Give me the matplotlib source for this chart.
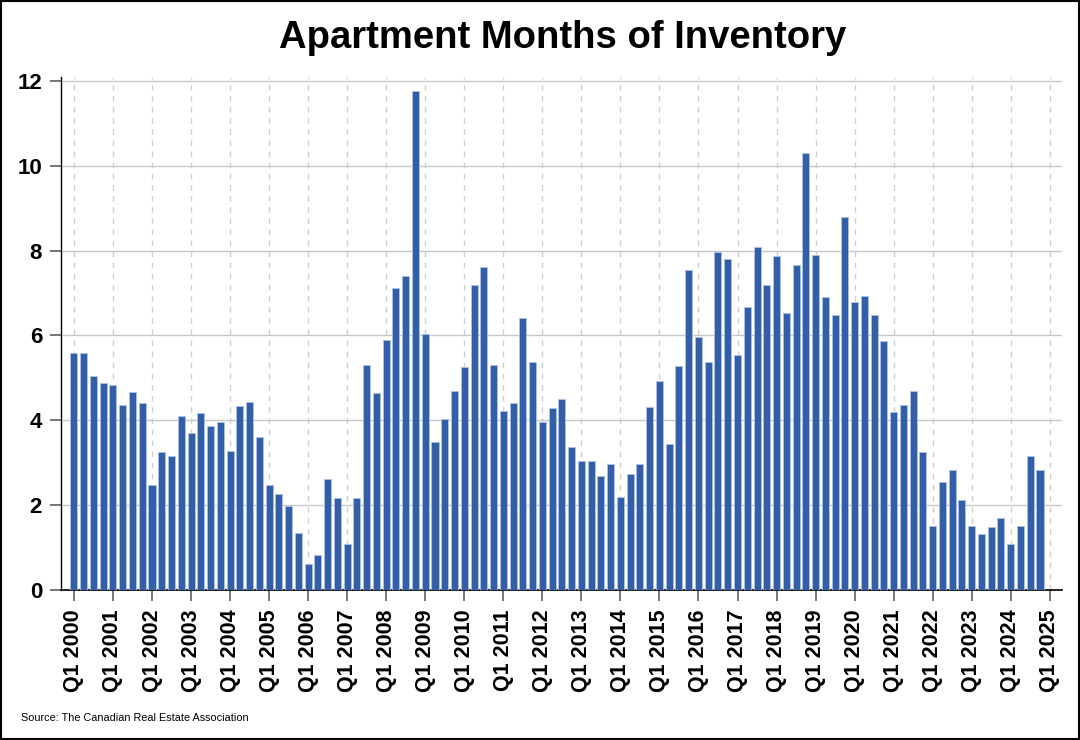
import matplotlib
matplotlib.use("Agg")
import matplotlib.pyplot as plt
import numpy as np

plt.rcParams['font.family'] = ['Liberation Sans', 'DejaVu Sans']

title = "Apartment Months of Inventory"
source = "Source: The Canadian Real Estate Association"
years = list(range(2000, 2026))
tick_labels = [f"Q1 {y}" for y in years]

# Quarterly values, Q1 2000 .. Q4 2024
values = [
    5.58, 5.59, 5.05, 4.87, 4.82, 4.35, 4.66, 4.41,   # 2000-2001
    2.48, 3.26, 3.15, 4.09, 3.69, 4.18, 3.87, 3.97,   # 2002-2003
    3.28, 4.34, 4.44, 3.60, 2.48, 2.26, 1.98, 1.35,   # 2004-2005
    0.61, 0.83, 2.62, 2.17, 1.08, 2.17, 5.30, 4.65,   # 2006-2007
    5.90, 7.12, 7.39, 11.77, 6.04, 3.49, 4.02, 4.68,  # 2008-2009
    5.26, 7.18, 7.61, 5.31, 4.23, 4.40, 6.41, 5.38,   # 2010-2011
    3.95, 4.30, 4.51, 3.38, 3.05, 3.05, 2.68, 2.96,   # 2012-2013
    2.19, 2.73, 2.96, 4.32, 4.93, 3.43, 5.28, 7.54,   # 2014-2015
    5.96, 5.38, 7.97, 7.81, 5.54, 6.68, 8.08, 7.18,   # 2016-2017
    7.87, 6.54, 7.66, 10.30, 7.89, 6.91, 6.49, 8.78,  # 2018-2019
    6.78, 6.92, 6.49, 5.87, 4.19, 4.35, 4.70, 3.26,   # 2020-2021
    1.50, 2.54, 2.83, 2.12, 1.51, 1.31, 1.48, 1.70,   # 2022-2023
    1.08, 1.50, 3.15, 2.83,                           # 2024
]

fig = plt.figure(figsize=(10.8, 7.4), dpi=100)
fig.patch.set_facecolor("white")
ax = fig.add_axes([0.0569, 0.2027, 0.9264, 0.6932])

x = np.arange(len(values))
ax.bar(x, values, width=0.72, color="#335EA8", edgecolor="#AFC3E3", linewidth=0.6, zorder=3)

ax.set_xlim(-1.28, 101.25)
ax.set_ylim(0, 12.09)
ax.set_yticks([0, 2, 4, 6, 8, 10, 12])
ax.set_xticks(np.arange(0, 101, 4))
ax.set_xticklabels(tick_labels, rotation=90, fontsize=15.5, fontweight="bold")
for lab in ax.get_yticklabels():
    lab.set_fontsize(16)
    lab.set_fontweight("bold")

ax.yaxis.grid(True, color="#C8C8C8", linewidth=1.0, zorder=0)
ax.xaxis.grid(True, color="#D0D0D0", linewidth=1.0, linestyle=(0, (4, 4)), zorder=0)
ax.set_axisbelow(True)

ax.tick_params(axis="y", length=8, width=1.2, color="#606060", pad=6)
ax.tick_params(axis="x", length=8, width=1.2, color="#606060", pad=6)

for s in ["top", "right"]:
    ax.spines[s].set_visible(False)
ax.spines["left"].set_color("black")
ax.spines["bottom"].set_color("black")
ax.spines["left"].set_linewidth(1.0)
ax.spines["bottom"].set_linewidth(1.2)

fig.text(0.5213, 0.949, title, ha="center", va="center", fontsize=27.5, fontweight="bold")
fig.text(0.0195, 0.03, source, ha="left", va="center", fontsize=7.8)

fig.add_artist(plt.Rectangle((0.0005, 0.0007), 0.999, 0.9986, transform=fig.transFigure,
                             fill=False, edgecolor="black", linewidth=1.5))

fig.savefig("out.png", dpi=100)
